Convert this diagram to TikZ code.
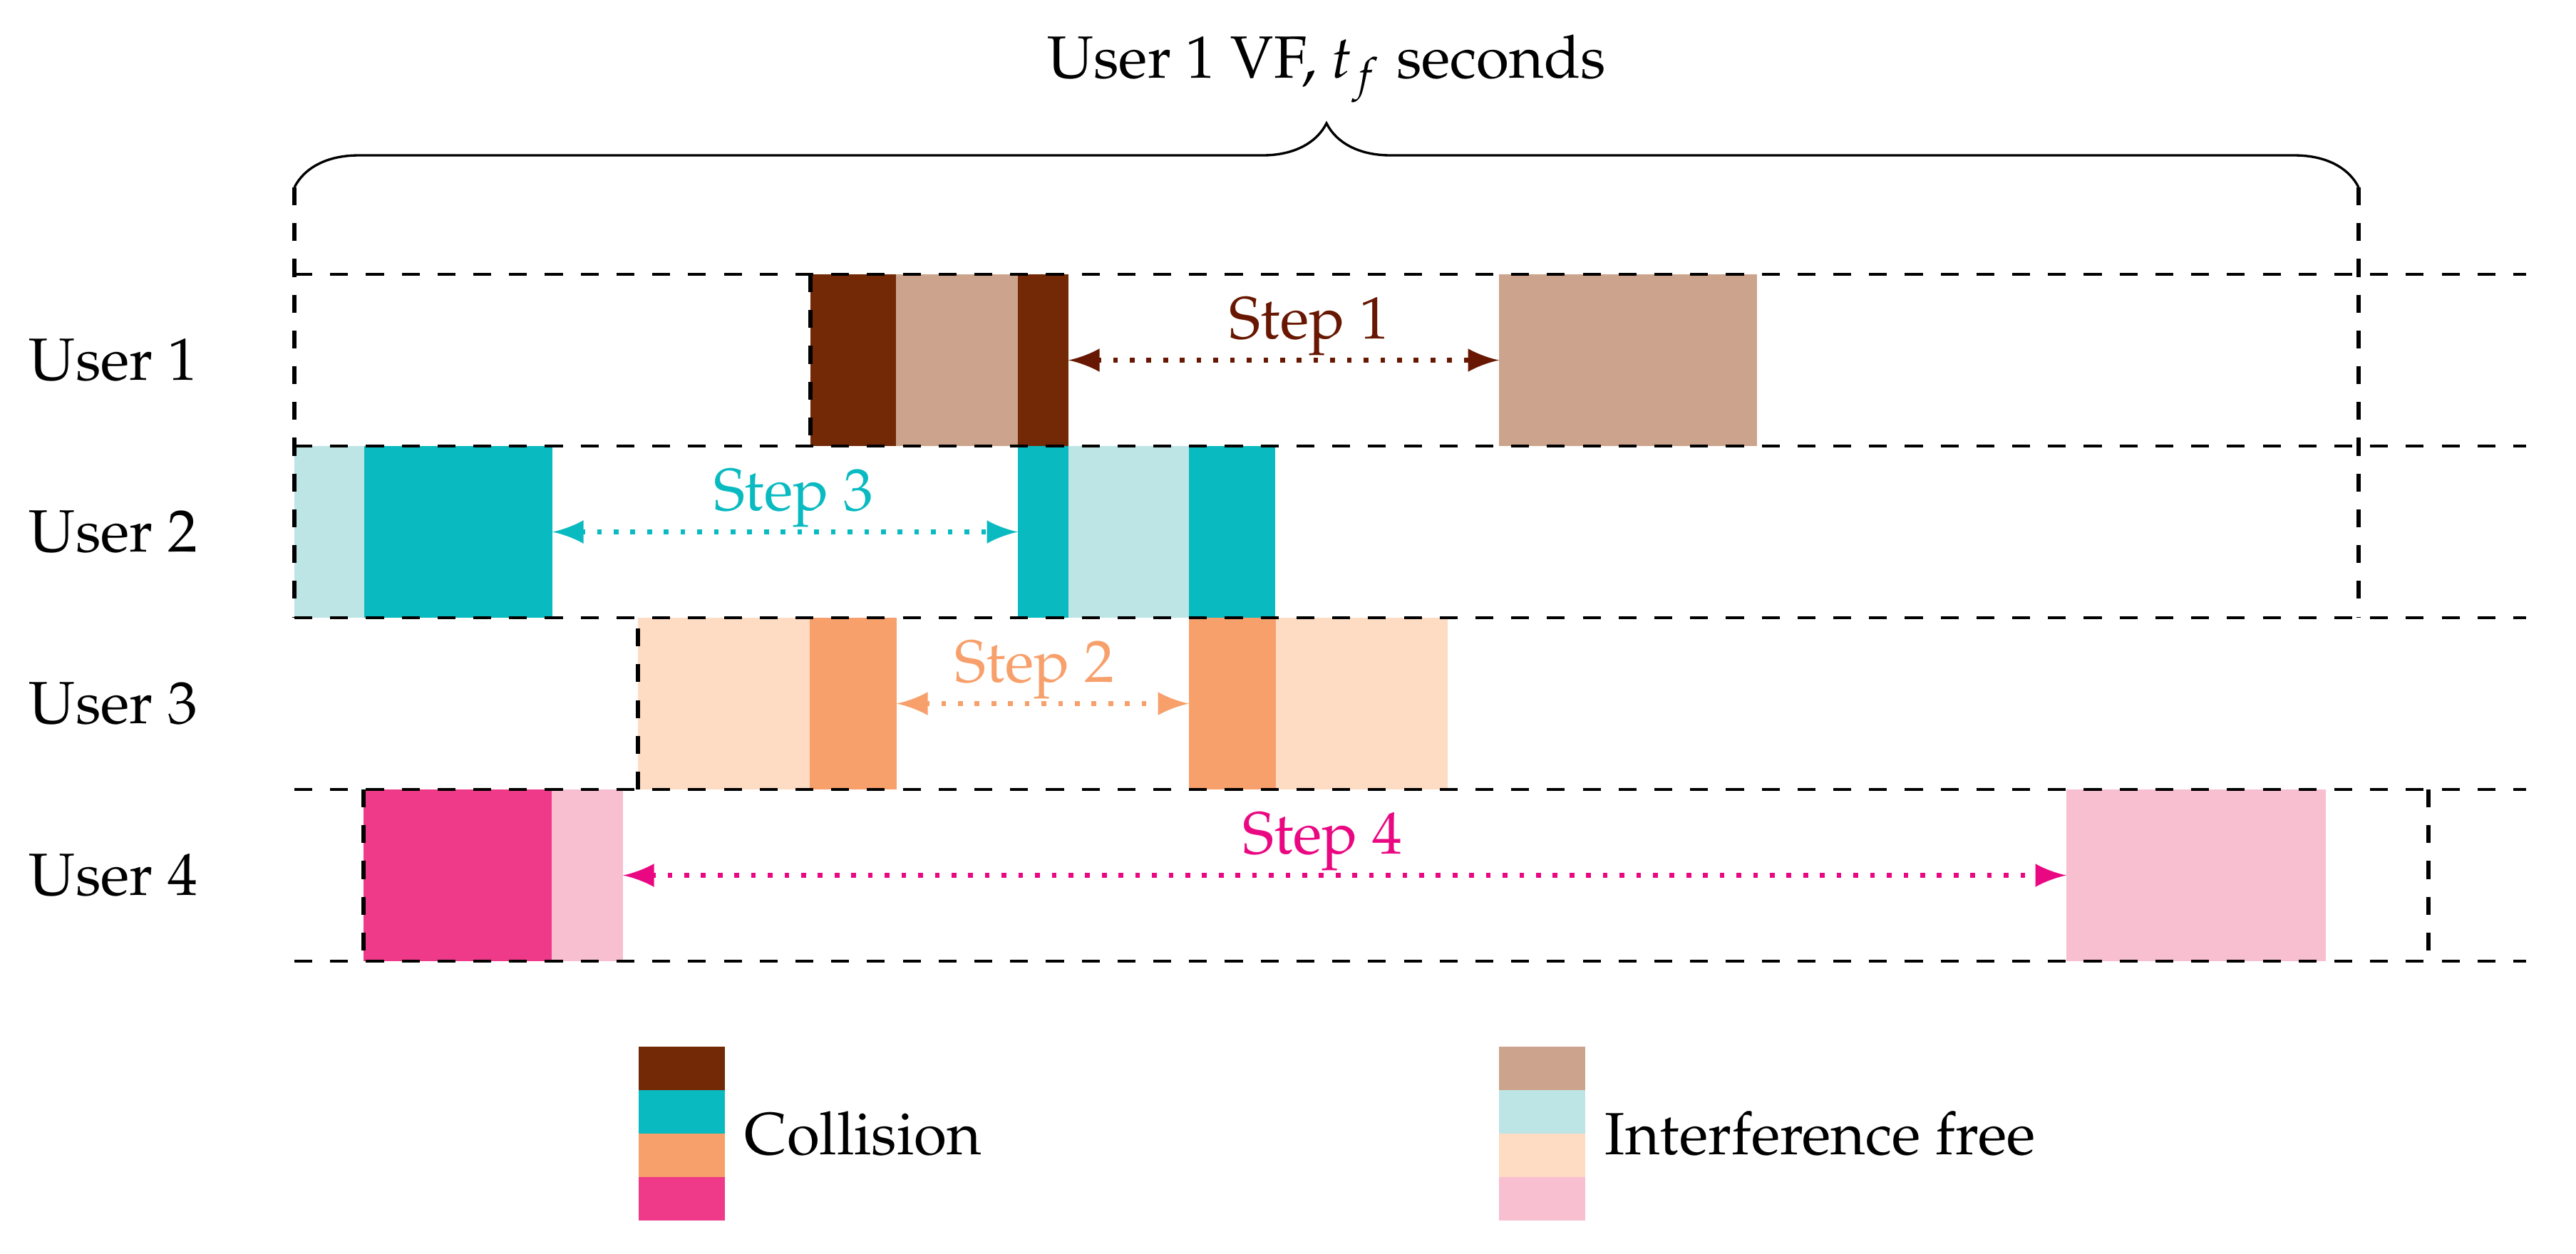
\documentclass[tikz,border=0pt]{standalone}
\usepackage[T1]{fontenc}
\usepackage{mathpazo}
\usetikzlibrary{positioning,decorations.pathreplacing}

\definecolor{colA}{RGB}{116,41,6}
\definecolor{colAl}{RGB}{204,164,141}
\definecolor{colAs}{RGB}{103,23,2}
\definecolor{colB}{RGB}{10,186,193}
\definecolor{colBl}{RGB}{189,229,230}
\definecolor{colC}{RGB}{247,160,107}
\definecolor{colCl}{RGB}{253,220,195}
\definecolor{colD}{RGB}{238,58,136}
\definecolor{colDl}{RGB}{247,191,208}
\definecolor{colDs}{RGB}{234,8,130}

\newcommand{\wu}{0.42cm}

\begin{document}
\begin{tikzpicture}[x=0.42cm,y=-0.42cm,every node/.style={outer sep=0pt}]
	\tikzstyle{slot}=[inner sep=0pt,minimum height=2.41*\wu,anchor=north west]
	\tikzstyle{lane}=[dashed]
	\tikzstyle{edge}=[thick,dashed]
	\tikzstyle{hop}=[thick,dotted,latex-latex]
	\tikzstyle{hoptext}=[midway,anchor=base,yshift=3.6pt,inner sep=0pt]
	\tikzstyle{swatch}=[inner sep=0pt,minimum width=1.21*\wu,minimum height=0.61*\wu]
	
	\useasboundingbox (0,0) rectangle (36.14,17.59);
	
	% User 1
	\node (b11) [slot,fill=colA,minimum width=1.20*\wu] at (11.37,3.85) {};
	\node (b12) [slot,fill=colAl,minimum width=1.71*\wu,right=0pt of b11] {};
	\node (b13) [slot,fill=colA,minimum width=0.71*\wu,right=0pt of b12] {};
	\node (b14) [slot,fill=colAl,minimum width=3.62*\wu] at (21.03,3.85) {};
	% User 2
	\node (b21) [slot,fill=colBl,minimum width=0.98*\wu] at (4.13,6.26) {};
	\node (b22) [slot,fill=colB,minimum width=2.64*\wu,right=0pt of b21] {};
	\node (b23) [slot,fill=colB,minimum width=0.71*\wu] at (14.28,6.26) {};
	\node (b24) [slot,fill=colBl,minimum width=1.69*\wu,right=0pt of b23] {};
	\node (b25) [slot,fill=colB,minimum width=1.21*\wu,right=0pt of b24] {};
	% User 3
	\node (b31) [slot,fill=colCl,minimum width=2.41*\wu] at (8.95,8.67) {};
	\node (b32) [slot,fill=colC,minimum width=1.22*\wu,right=0pt of b31] {};
	\node (b33) [slot,fill=colC,minimum width=1.22*\wu] at (16.68,8.67) {};
	\node (b34) [slot,fill=colCl,minimum width=2.41*\wu,right=0pt of b33] {};
	% User 4
	\node (b41) [slot,fill=colD,minimum width=2.64*\wu] at (5.10,11.08) {};
	\node (b42) [slot,fill=colDl,minimum width=1.0*\wu,right=0pt of b41] {};
	\node (b43) [slot,fill=colDl,minimum width=3.64*\wu] at (28.99,11.08) {};
	
	\foreach \y in {3.85,6.26,8.67,11.08,13.49}
		\draw[lane] (4.13,\y) -- (35.44,\y);
	
	\draw[edge] (4.13,2.63) -- (4.13,8.67);
	\draw[edge] (33.09,2.63) -- (33.09,8.67);
	\draw[edge] (11.37,3.85) -- (11.37,6.26);
	\draw[edge] (8.95,11.08) -- (8.95,8.67);
	\draw[edge] (5.10,11.08) -- (5.10,13.49);
	\draw[edge] (34.07,11.08) -- (34.07,13.49);
	
	\draw[decorate,decoration={brace,amplitude=0.378cm}] (4.13,2.63) -- (33.09,2.63);
	\node (vf) [anchor=base] at (18.61,1.09) {User 1 VF, $t_f$ seconds};
	
	\node (U1) [anchor=west,inner sep=0pt] at (0.41,5.055) {User 1};
	\node (U2) [anchor=west,inner sep=0pt] at (0.41,7.465) {User 2};
	\node (U3) [anchor=west,inner sep=0pt] at (0.41,9.875) {User 3};
	\node (U4) [anchor=west,inner sep=0pt] at (0.41,12.285) {User 4};
	
	\draw[hop,colAs] (b13.east) -- node[hoptext,xshift=4.3pt]{Step 1} (b14.west);
	\draw[hop,colB] (b22.east) -- node[hoptext,xshift=1.4pt]{Step 3} (b23.west);
	\draw[hop,colC] (b32.east) -- node[hoptext,xshift=-1.4pt]{Step 2} (b33.west);
	\draw[hop,colDs] (b42.east) -- node[hoptext,xshift=-3.7pt]{Step 4} (b43.west);
	
	% legend
	\node (k1) [swatch,fill=colA,anchor=north west] at (8.96,14.69) {};
	\node (k2) [swatch,fill=colB,below=0pt of k1] {};
	\node (k3) [swatch,fill=colC,below=0pt of k2] {};
	\node (k4) [swatch,fill=colD,below=0pt of k3] {};
	\node (coll) [anchor=west] at (k2.south east) {Collision};
	\node (k5) [swatch,fill=colAl,anchor=north west] at (21.03,14.69) {};
	\node (k6) [swatch,fill=colBl,below=0pt of k5] {};
	\node (k7) [swatch,fill=colCl,below=0pt of k6] {};
	\node (k8) [swatch,fill=colDl,below=0pt of k7] {};
	\node (free) [anchor=west] at (k6.south east) {Interference free};
\end{tikzpicture}
\end{document}
